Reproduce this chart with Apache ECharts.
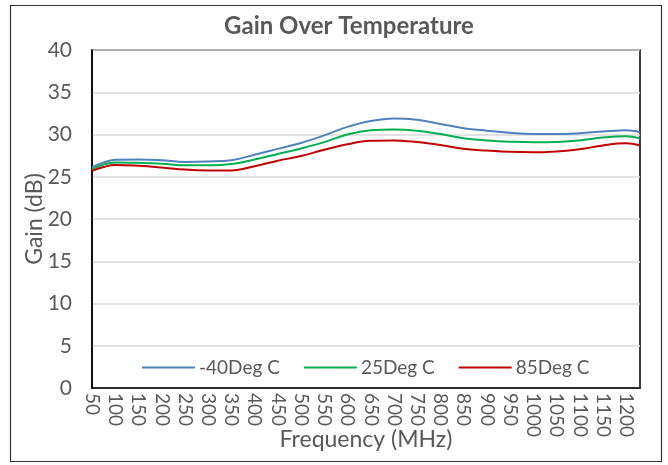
<!DOCTYPE html>
<html>
<head>
<meta charset="utf-8">
<script src="https://cdn.jsdelivr.net/npm/echarts@6/dist/echarts.min.js"></script>
<style>
html,body{margin:0;padding:0;background:#fff;}
#chart{width:668px;height:465px;}
</style>
</head>
<body>
<div id="chart"></div>
<script>
const freq = [50, 75, 100, 150, 200, 250, 300, 350, 400, 450, 500, 550, 600, 650, 700, 750, 800, 850, 900, 950, 1000, 1050, 1100, 1150, 1200, 1230];
const gainM40 = [26.1, 26.7, 27.0, 27.05, 26.95, 26.75, 26.8, 26.95, 27.6, 28.3, 29.0, 29.9, 30.9, 31.6, 31.9, 31.75, 31.25, 30.75, 30.45, 30.2, 30.05, 30.05, 30.15, 30.35, 30.5, 30.3];
const gain25 = [25.9, 26.45, 26.7, 26.65, 26.55, 26.35, 26.35, 26.5, 27.05, 27.7, 28.35, 29.1, 30.0, 30.5, 30.6, 30.45, 30.05, 29.55, 29.3, 29.15, 29.07, 29.1, 29.3, 29.65, 29.8, 29.55];
const gain85 = [25.7, 26.15, 26.4, 26.3, 26.1, 25.85, 25.75, 25.75, 26.25, 26.9, 27.45, 28.2, 28.85, 29.25, 29.3, 29.1, 28.75, 28.3, 28.1, 27.95, 27.9, 28.0, 28.25, 28.7, 28.95, 28.7];
const seriesNames = ['-40Deg C', '25Deg C', '85Deg C'];
const seriesColors = ['#4F81BD', '#00B050', '#C00000'];
const yTicks = {min: 0, max: 40, interval: 5};
const xTicks = {min: 50, max: 1230, interval: 50};

const FONT = 'Lato';
const TXT = '#595959';
const chart = echarts.init(document.getElementById('chart'), null, {renderer: 'canvas'});
const allData = [gainM40, gain25, gain85];
chart.setOption({
  animation: false,
  backgroundColor: '#fff',
  textStyle: {fontFamily: FONT},
  title: {
    text: 'Gain Over Temperature',
    left: 344, top: 9, textAlign: 'center',
    textStyle: {fontFamily: FONT, fontSize: 24, fontWeight: 'bold', color: TXT}
  },
  graphic: [{
    type: 'rect', shape: {x: 10.5, y: 5.5, width: 651, height: 456},
    style: {fill: 'none', stroke: '#333', lineWidth: 1.2}, silent: true, z: 100
  }],
  legend: {
    left: 142, top: 358, padding: 0,
    icon: 'rect', itemWidth: 53, itemHeight: 2, itemGap: 24,
    textStyle: {fontFamily: FONT, fontSize: 19, color: TXT, padding: [0, 0, 0, -1]},
    data: seriesNames
  },
  grid: {left: 92, right: 28, top: 50, bottom: 77, containLabel: false, outerBoundsMode: 'none',
    show: true, borderColor: '#000', borderWidth: 1.5, backgroundColor: 'transparent'},
  xAxis: {
    type: 'value', min: xTicks.min, max: xTicks.max, interval: xTicks.interval,
    name: 'Frequency (MHz)', nameLocation: 'middle', nameGap: 40, nameMoveOverlap: false,
    nameTextStyle: {fontFamily: FONT, fontSize: 23, color: TXT},
    axisLine: {show: true, lineStyle: {color: '#000', width: 1.5}},
    axisTick: {show: false},
    splitLine: {show: false},
    axisLabel: {rotate: -90, margin: 5, showMaxLabel: false, fontFamily: FONT, fontSize: 19, color: TXT,
      formatter: v => String(v)}
  },
  yAxis: {
    type: 'value', min: yTicks.min, max: yTicks.max, interval: yTicks.interval,
    name: 'Gain (dB)', nameLocation: 'middle', nameGap: 46, nameMoveOverlap: false,
    nameTextStyle: {fontFamily: FONT, fontSize: 23, color: TXT},
    axisLine: {show: true, lineStyle: {color: '#000', width: 1.5}},
    axisTick: {show: false},
    splitLine: {show: true, lineStyle: {color: '#D9D9D9', width: 1.5}},
    axisLabel: {margin: 20, fontFamily: FONT, fontSize: 21, color: TXT}
  },
  series: seriesNames.map((n, i) => ({
    name: n, type: 'line', smooth: 0.4, symbol: 'none',
    lineStyle: {color: seriesColors[i], width: 2},
    itemStyle: {color: seriesColors[i]},
    data: freq.map((f, k) => [f, allData[i][k]])
  }))
});
</script>
</body>
</html>
